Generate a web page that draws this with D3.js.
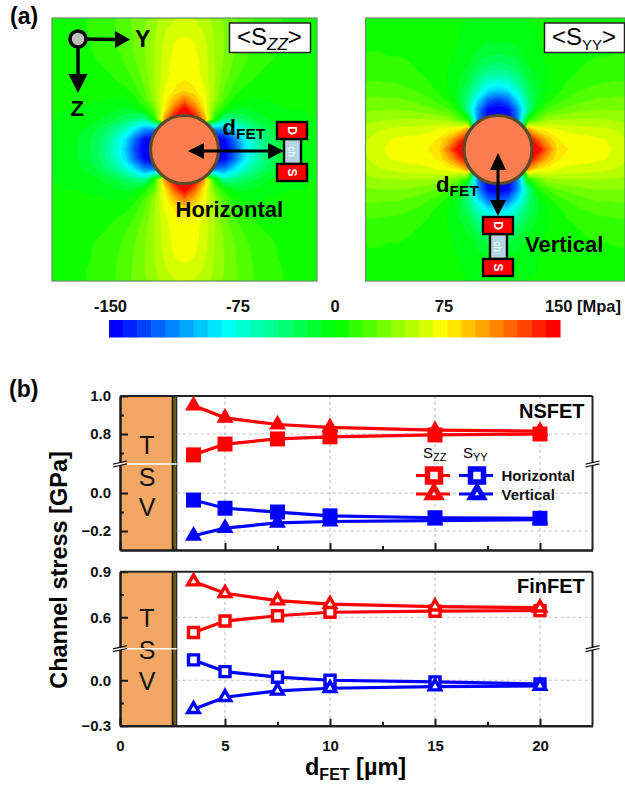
<!DOCTYPE html>
<html lang="en">
<head>
<meta charset="UTF-8">
<title>Channel stress vs dFET</title>
<script src="https://d3js.org/d3.v7.min.js"></script>
<style>
  body { margin: 0; background: #fff; }
  svg { display: block; font-family: "Liberation Sans", Arial, sans-serif; }
  .grid { stroke: #c4c4c4; stroke-width: 1.2; stroke-dasharray: 3,3; fill: none; }
  .axis path, .axis line { stroke: #1a1a1a; stroke-width: 2; }
  .axis text { font-size: 15px; font-weight: bold; fill: #111; font-family: "Liberation Sans", Arial, sans-serif; }
</style>
</head>
<body>
<script>

// stress in MPa, one quadrant around the via, rows = distance along the lobe, cols = across it (10 px steps)
var stressQuadrant = [
  [-150,-150,-150,-150,-150,-125, -85, -58, -38, -24, -15,  -8,  -4,  -2],
  [-150,-150,-150,-150,-145,-115, -78, -54, -36, -22, -14,  -8,  -4,  -2],
  [-150,-150,-150,-110,-105, -80, -56, -40, -27, -17, -10,  -6,  -3,  -1],
  [ 150, 150, 100,   5, -45, -38, -28, -19, -12,  -7,  -4,  -2,  -1,   0],
  [ 150, 118,  75,  28,   5, -10, -12,  -8,  -5,  -2,  -1,   0,   0,   0],
  [ 112,  92,  70,  44,  20,   6,   0,  -1,   0,   1,   2,   2,   2,   2],
  [  80,  76,  66,  46,  27,  14,   7,   4,   3,   4,   4,   4,   3,   3],
  [  75,  72,  62,  47,  31,  20,  13,   9,   7,   6,   6,   5,   4,   3],
  [  73,  70,  61,  47,  34,  24,  17,  12,   9,   8,   7,   6,   5,   4],
  [  72,  69,  60,  47,  36,  27,  20,  14,  11,   9,   8,   7,   5,   4],
  [  70,  67,  59,  47,  37,  29,  22,  16,  12,  10,   8,   7,   5,   4],
  [  67,  65,  57,  46,  37,  29,  23,  17,  13,  10,   8,   7,   6,   5],
  [  63,  61,  55,  45,  37,  30,  23,  18,  14,  11,   9,   7,   6,   5],
  [  58,  56,  52,  44,  36,  30,  24,  18,  14,  11,   9,   7,   6,   5]
];

var colorStops = ["#0000ff", "#00ffff", "#00ff00", "#ffff00", "#ff0000"];
var stopValues = [-150, -75, 0, 75, 150];
var barTicks = [-150, -75, 0, 75, 150];
var barLabels = ["-150", "-75", "0", "75", "150 [Mpa]"];

var dFet = [3.5, 5, 7.5, 10, 15, 20];

var nsSzzH = [0.69, 0.747, 0.774, 0.785, 0.795, 0.80];
var nsSzzV = [0.95, 0.885, 0.85, 0.835, 0.82, 0.815];
var nsSyyH = [-0.037, -0.08, -0.10, -0.12, -0.13, -0.133];
var nsSyyV = [-0.225, -0.185, -0.157, -0.15, -0.145, -0.14];

var finSzzH = [0.50, 0.575, 0.61, 0.633, 0.64, 0.644];
var finSzzV = [0.835, 0.758, 0.71, 0.686, 0.67, 0.663];
var finSyyH = [0.134, 0.057, 0.02, 0, -0.011, -0.025];
var finSyyV = [-0.191, -0.112, -0.07, -0.053, -0.042, -0.038];

var xTicks = [0, 5, 10, 15, 20];
var xMinor = [2.5, 7.5, 12.5, 17.5];
var nsTicks = [1.0, 0.8, 0, -0.2];
var nsMinor = [0.9, 0.7, -0.1];
var nsGrid = [0.8, 0, -0.2];
var finTicks = [0.9, 0.6, 0, -0.3];
var finMinor = [0.75, -0.15];
var finGrid = [0.6, 0];

var tsvEdge = 2.5, linerEdge = 2.7;

var width = 625, height = 785;
var red = "#ff0000", blue = "#0000ff";

var svg = d3.select("body").append("svg")
    .attr("width", width)
    .attr("height", height);

var x = d3.scaleLinear().domain([0, 22.5]).range([120, 592.5]);

var stressColor = d3.scaleLinear().domain(stopValues).range(colorStops);
var nBands = 32, bandStep = 300 / nBands;
var bands = d3.range(nBands);
function bandColor(i) { return stressColor(-150 + i * 300 / (nBands - 1)); }

// ---------- heat maps ----------
var defs = svg.append("defs");

function expandField(flip) {
  var out = [];
  for (var j = -13; j <= 13; j++) {
    for (var i = -13; i <= 13; i++) {
      var a = Math.abs(j), b = Math.abs(i);
      out.push(flip ? stressQuadrant[b][a] : stressQuadrant[a][b]);
    }
  }
  return out;
}

var contours = d3.contours().size([27, 27]).thresholds(bands.slice(1).map(function(i) { return -150 + i * bandStep; }));

function heatPanel(id, x0, x1, y0, y1, cx, cy, flip) {
  defs.append("clipPath").attr("id", id).append("rect")
      .attr("x", x0).attr("y", y0).attr("width", x1 - x0).attr("height", y1 - y0);
  var g = svg.append("g").attr("clip-path", "url(#" + id + ")");
  g.append("rect").attr("x", x0).attr("y", y0).attr("width", x1 - x0).attr("height", y1 - y0)
      .attr("fill", bandColor(0));
  var path = d3.geoPath(d3.geoIdentity().scale(10).translate([cx - 135, cy - 135]));
  g.selectAll("path")
      .data(contours(expandField(flip)))
    .enter().append("path")
      .attr("d", path)
      .attr("fill", function(d, i) { return bandColor(i + 1); })
      .attr("stroke", function(d, i) { return bandColor(i + 1); })
      .attr("stroke-width", 0.4);
  svg.append("rect").attr("x", x0).attr("y", y0).attr("width", x1 - x0).attr("height", y1 - y0)
      .attr("fill", "none").attr("stroke", "#5f8f5f").attr("stroke-width", 1.2);
  svg.append("circle").attr("cx", cx).attr("cy", cy).attr("r", 34)
      .attr("fill", "#fb7d4f").attr("stroke", "#5c4a28").attr("stroke-width", 3.2);
}

heatPanel("clipL", 52, 317, 18, 281, 184.5, 149.5, false);
heatPanel("clipR", 365.5, 625, 18, 281, 498, 149.5, true);

function head(px, py, angle, len, half) {
  var p = d3.path();
  p.moveTo(len, 0); p.lineTo(0, -half); p.lineTo(0, half); p.closePath();
  svg.append("path").attr("d", p.toString()).attr("fill", "#000")
      .attr("transform", "translate(" + px + "," + py + ") rotate(" + angle + ")");
}

function stroke(x1, y1, x2, y2, w) {
  svg.append("line").attr("x1", x1).attr("y1", y1).attr("x2", x2).attr("y2", y2)
      .attr("stroke", "#000").attr("stroke-width", w);
}

function label(tx, ty, str, size, weight, sub, subSize, tail) {
  var t = svg.append("text").attr("x", tx).attr("y", ty)
      .attr("font-size", size).attr("font-weight", weight || "normal").attr("fill", "#000")
      .text(str);
  if (sub) {
    t.append("tspan").attr("font-size", subSize).attr("dy", size * 0.2).text(sub);
    if (tail) t.append("tspan").attr("dy", -size * 0.2).text(tail);
  }
  return t;
}

// axis icon
stroke(78, 39, 116, 39.5, 3.5);
stroke(78, 39, 78, 76, 3.5);
head(115, 39.5, 0, 15, 8.5);
head(78, 74, 90, 19, 9.5);
svg.append("circle").attr("cx", 78).attr("cy", 39).attr("r", 8)
    .attr("fill", "#bdbdbd").attr("stroke", "#000").attr("stroke-width", 3.5);
label(135, 47, "Y", 23, "bold");
label(70.5, 116, "Z", 22, "bold");

// stress boxes
svg.append("rect").attr("x", 229.5).attr("y", 23).attr("width", 81).attr("height", 29.5)
    .attr("fill", "#fff").attr("stroke", "#222").attr("stroke-width", 1.5);
svg.append("rect").attr("x", 544.5).attr("y", 23).attr("width", 80).attr("height", 29.5)
    .attr("fill", "#fff").attr("stroke", "#222").attr("stroke-width", 1.5);
label(237, 45, "<S", 24, "normal", "ZZ", 17, ">").select("tspan").attr("font-style", "italic");
label(552, 45, "<S", 24, "normal", "YY", 15, ">");

// FET sketches
function device(bx, by) {
  var g = svg.append("g").attr("transform", "translate(" + bx + "," + by + ")");
  g.append("rect").attr("x", 7).attr("y", 17).attr("width", 17).attr("height", 25)
      .attr("fill", "#b4d6e2").attr("stroke", "#000").attr("stroke-width", 2.4);
  g.append("rect").attr("x", 0).attr("y", 0).attr("width", 30).attr("height", 17)
      .attr("fill", "#ff0000").attr("stroke", "#000").attr("stroke-width", 2.4);
  g.append("rect").attr("x", 0).attr("y", 42).attr("width", 30).attr("height", 17)
      .attr("fill", "#ff0000").attr("stroke", "#000").attr("stroke-width", 2.4);
  [["D", 8.5, 12, "bold", "#fff"], ["ch", 29.5, 10, "normal", "#f4fbff"], ["S", 50.5, 12, "bold", "#fff"]].forEach(function(d) {
    g.append("text").attr("transform", "translate(15," + d[1] + ") rotate(90)")
        .attr("text-anchor", "middle").attr("dy", "0.36em")
        .attr("font-size", d[2]).attr("font-weight", d[3]).attr("fill", d[4]).text(d[0]);
  });
}
device(277, 122);
device(483, 217);

// dFET arrows
stroke(200, 151, 272, 151, 3);
head(204, 151, 180, 16, 8);
head(268, 151, 0, 16, 8);
stroke(498, 165, 498, 205, 3);
head(498, 170, -90, 17, 8);
head(498, 200, 90, 16, 8);

label(222.5, 135, "d", 22, "bold", "FET", 15.5);
label(436, 192, "d", 22, "bold", "FET", 15.5);
label(175.5, 217, "Horizontal", 22, "bold");
label(525, 252, "Vertical", 22, "bold");
label(10, 24, "(a)", 23, "bold");
label(9, 397, "(b)", 23, "bold");

// ---------- colour bar ----------
var barX = d3.scaleBand().domain(bands).range([109, 560]);
svg.selectAll(".band").data(bands).enter().append("rect")
    .attr("class", "band")
    .attr("x", function(d) { return barX(d); })
    .attr("y", 320)
    .attr("width", barX.bandwidth() + 0.5)
    .attr("height", 17.5)
    .attr("fill", bandColor);

var barLabelX = d3.scaleLinear().domain(barTicks).range([110.5, 238, 335, 444, 583]);
svg.selectAll(".barlabel").data(barTicks).enter().append("text")
    .attr("class", "barlabel")
    .attr("x", function(d) { return barLabelX(d); })
    .attr("y", 312)
    .attr("text-anchor", "middle")
    .attr("font-size", 16.5)
    .attr("font-weight", "bold")
    .attr("fill", "#111")
    .text(function(d, i) { return barLabels[i]; });

// ---------- line panels ----------
function linePanel(cfg) {
  var y = d3.scaleLinear().domain(cfg.domain).range(cfg.range);
  var top = cfg.range[3], bottom = cfg.range[0], brk = cfg.range[1];
  var g = svg.append("g");

  // TSV and liner
  g.append("rect").attr("x", x(0)).attr("y", top).attr("width", x(tsvEdge) - x(0)).attr("height", bottom - top)
      .attr("fill", "#f3a765");
  g.append("rect").attr("x", x(tsvEdge)).attr("y", top).attr("width", x(linerEdge) - x(tsvEdge)).attr("height", bottom - top)
      .attr("fill", "#6b5f17");
  g.append("line").attr("x1", x(tsvEdge)).attr("x2", x(tsvEdge)).attr("y1", top).attr("y2", bottom)
      .attr("stroke", "#111").attr("stroke-width", 1.6);
  g.append("line").attr("x1", x(linerEdge)).attr("x2", x(linerEdge)).attr("y1", top).attr("y2", bottom)
      .attr("stroke", "#222").attr("stroke-width", 1.2);

  cfg.tsvBase.forEach(function(b, i) {
    g.append("text").attr("x", 147).attr("y", b).attr("text-anchor", "middle")
        .attr("font-size", 25).attr("fill", "#111").text("TSV"[i]);
  });

  // grid
  g.selectAll(".gy").data(cfg.grid).enter().append("line")
      .attr("class", "grid")
      .attr("x1", x(linerEdge)).attr("x2", x(22.5))
      .attr("y1", function(d) { return y(d); })
      .attr("y2", function(d) { return y(d); });
  g.selectAll(".gx").data(xTicks.slice(1)).enter().append("line")
      .attr("class", "grid")
      .attr("x1", function(d) { return x(d); })
      .attr("x2", function(d) { return x(d); })
      .attr("y1", top).attr("y2", bottom);

  // axes
  var axisB = d3.axisBottom(x).tickValues(xTicks).tickSizeInner(-7).tickSizeOuter(0).tickPadding(cfg.xLabels ? 15 : 0)
      .tickFormat(function(d) { return cfg.xLabels ? d : ""; });
  var axisBm = d3.axisBottom(x).tickValues(xMinor).tickSizeInner(-4).tickSizeOuter(0).tickFormat("");
  var axisL = d3.axisLeft(y).tickValues(cfg.ticks).tickSizeInner(-8).tickSizeOuter(0).tickPadding(9).tickFormat(d3.format(".1f"));
  var axisLm = d3.axisLeft(y).tickValues(cfg.minor).tickSizeInner(-4).tickSizeOuter(0).tickFormat("");
  g.append("g").attr("class", "axis").attr("transform", "translate(0," + bottom + ")").call(axisB);
  g.append("g").attr("class", "axis").attr("transform", "translate(0," + bottom + ")").call(axisBm);
  g.append("g").attr("class", "axis").attr("transform", "translate(120,0)").call(axisL);
  g.append("g").attr("class", "axis").attr("transform", "translate(120,0)").call(axisLm);
  g.append("line").attr("x1", 120).attr("x2", 592.5).attr("y1", top).attr("y2", top)
      .attr("stroke", "#222").attr("stroke-width", 2);
  g.append("line").attr("x1", 592.5).attr("x2", 592.5).attr("y1", top).attr("y2", bottom)
      .attr("stroke", "#222").attr("stroke-width", 2);

  // axis break
  g.append("line").attr("x1", 120).attr("x2", x(linerEdge)).attr("y1", brk).attr("y2", brk)
      .attr("stroke", "#fff").attr("stroke-width", 1.6);
  [120, 592.5].forEach(function(bx) {
    g.append("rect").attr("x", bx - 1.5).attr("y", brk - 1).attr("width", 3).attr("height", 2).attr("fill", "#fff");
    [-1.4, 1.4].forEach(function(off) {
      g.append("line").attr("x1", bx - 7).attr("x2", bx + 7)
          .attr("y1", brk + off + 1.6).attr("y2", brk + off - 1.6)
          .attr("stroke", "#111").attr("stroke-width", 1.2);
    });
  });

  // series
  var line = d3.line().x(function(d, i) { return x(dFet[i]); }).y(function(d) { return y(d); });
  cfg.series.forEach(function(s) {
    g.append("path").attr("d", line(s.values)).attr("fill", "none").attr("stroke", s.color).attr("stroke-width", 3.2);
    g.selectAll(null).data(s.values).enter().append("path")
        .attr("d", d3.symbol().type(s.shape).size(s.size))
        .attr("transform", function(d, i) { return "translate(" + x(dFet[i]) + "," + y(d) + ")"; })
        .attr("fill", cfg.filled ? s.color : "#fff")
        .attr("stroke", s.color)
        .attr("stroke-width", cfg.filled ? 0 : 3.4);
  });

  label(cfg.titleX, cfg.titleY, cfg.title, 20, "bold");
}

linePanel({
  domain: [-0.3, 0.153, 0.642, 1.0],
  range: [550, 464, 464, 396],
  ticks: nsTicks, minor: nsMinor, grid: nsGrid,
  tsvBase: [454, 485.5, 516],
  filled: true,
  xLabels: false,
  title: "NSFET", titleX: 519, titleY: 417.5,
  series: [
    {values: nsSyyV, color: blue, shape: d3.symbolTriangle, size: 125},
    {values: nsSyyH, color: blue, shape: d3.symbolSquare, size: 225},
    {values: nsSzzV, color: red, shape: d3.symbolTriangle, size: 125},
    {values: nsSzzH, color: red, shape: d3.symbolSquare, size: 225}
  ]
});

linePanel({
  domain: [-0.3, 0.208, 0.393, 0.9],
  range: [725.7, 648.7, 648.7, 571.7],
  ticks: finTicks, minor: finMinor, grid: finGrid,
  tsvBase: [626.5, 658.5, 690],
  filled: false,
  xLabels: true,
  title: "FinFET", titleX: 517, titleY: 593,
  series: [
    {values: finSyyH, color: blue, shape: d3.symbolSquare, size: 100},
    {values: finSyyV, color: blue, shape: d3.symbolTriangle, size: 57},
    {values: finSzzH, color: red, shape: d3.symbolSquare, size: 100},
    {values: finSzzV, color: red, shape: d3.symbolTriangle, size: 57}
  ]
});

// ---------- legend ----------
label(423, 458, "S", 15, "normal", "ZZ", 11);
label(463, 458, "S", 15, "normal", "YY", 11);
[[433, red], [476, blue]].forEach(function(c) {
  [[475.5, d3.symbolSquare, 169, 5.5], [494, d3.symbolTriangle, 73, 5]].forEach(function(r) {
    svg.append("line").attr("x1", c[0] - 17).attr("x2", c[0] + 17).attr("y1", r[0]).attr("y2", r[0])
        .attr("stroke", c[1]).attr("stroke-width", 3);
    svg.append("path").attr("d", d3.symbol().type(r[1]).size(r[2]))
        .attr("transform", "translate(" + (c[0] + 1) + "," + r[0] + ")")
        .attr("fill", "#fff").attr("stroke", c[1]).attr("stroke-width", r[3]);
  });
});
label(501.5, 480.5, "Horizontal", 15, "bold").attr("fill", "#111");
label(501.5, 500, "Vertical", 15, "bold").attr("fill", "#111");

// ---------- axis titles ----------
label(0, 0, "Channel stress [GPa]", 23.5, "bold")
    .attr("x", null).attr("y", null)
    .attr("text-anchor", "middle")
    .attr("transform", "translate(67,570) rotate(-90)");
label(305, 775, "d", 23.5, "bold", "FET", 16).append("tspan").attr("dy", -4.7).text(" [µm]");

</script>
</body>
</html>
